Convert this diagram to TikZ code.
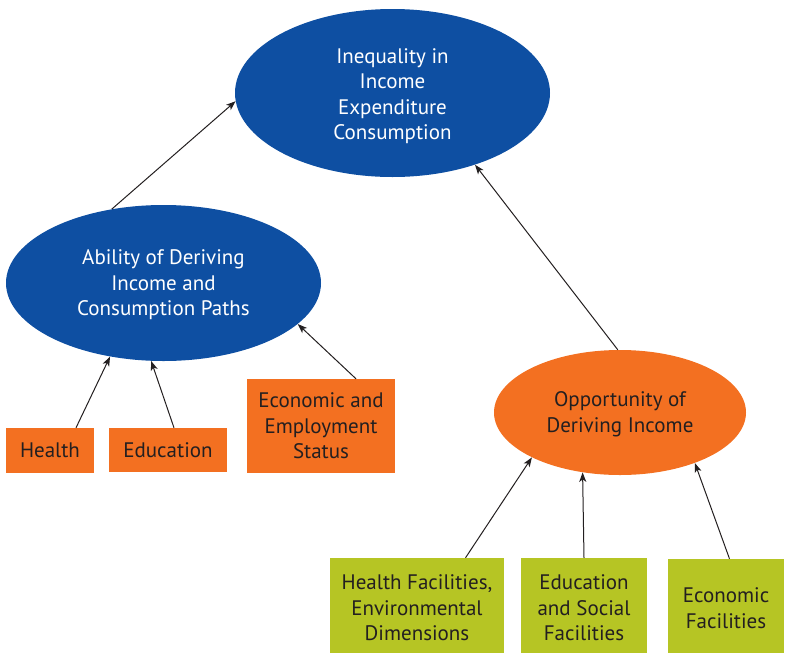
\documentclass[tikz,border=0pt]{standalone}
\usepackage{fontspec}
\setmainfont{PT Sans}
\usetikzlibrary{shapes.geometric,arrows.meta}
\definecolor{cblue}{RGB}{14,79,162}
\definecolor{corange}{RGB}{243,112,33}
\definecolor{cgreen}{RGB}{182,197,36}
\definecolor{cdark}{RGB}{35,31,32}
\tikzset{
  txt/.style={inner sep=0pt,align=center,font=\fontsize{21}{25.5}\selectfont},
  bigell/.style={ellipse,fill=cblue,text=white,txt},
  orell/.style={ellipse,fill=corange,text=cdark,txt},
  obox/.style={rectangle,fill=corange,text=cdark,txt},
  gbox/.style={rectangle,fill=cgreen,text=cdark,txt},
  wtxt/.style={txt,text=white},
  dtxt/.style={txt,text=cdark},
  conn/.style={draw=cdark,line width=1pt,-{Stealth[length=9.5pt,width=7pt,inset=2.5pt]}}
}
\begin{document}
\begin{tikzpicture}[x=1pt,y=-1pt]
\useasboundingbox (0,0) rectangle (785,654);
\node[bigell,minimum width=315pt,minimum height=168pt,label={[wtxt,yshift=-3pt]center:Inequality in\\Income\\Expenditure\\Consumption}] (top) at (392.5,93) {};
\node[bigell,minimum width=315pt,minimum height=156pt,label={[wtxt,yshift=-2pt]center:Ability of Deriving\\Income and\\Consumption Paths}] (abl) at (163.5,283) {};
\node[orell,minimum width=252pt,minimum height=125pt,label={[dtxt,yshift=-1.5pt]center:Opportunity of\\Deriving Income}] (opp) at (620,412.5) {};
\node[obox,minimum width=88pt,minimum height=45pt] (hea) at (50,450.5) {Health};
\node[obox,minimum width=118pt,minimum height=44pt] (edu) at (168,450) {Education};
\node[obox,minimum width=148pt,minimum height=94pt] (eco) at (321,426) {Economic and\\Employment\\Status};
\node[gbox,minimum width=174pt,minimum height=95pt,label={[dtxt,yshift=-2.5pt]center:Health Facilities,\\Environmental\\Dimensions}] (hfac) at (417,605.5) {};
\node[gbox,minimum width=126pt,minimum height=95pt,label={[dtxt,yshift=-2.5pt]center:Education\\and Social\\Facilities}] (efac) at (584,605.5) {};
\node[gbox,minimum width=116pt,minimum height=94pt,label={[dtxt,yshift=-2pt]center:Economic\\Facilities}] (ecfac) at (726,606) {};
\draw[conn] (abl.125.4) -- (top.183.6);
\draw[conn] (opp.92.7) -- (top.319.5);
\draw[conn] ([xshift=26pt]hea.north) -- (abl.234.9);
\draw[conn] ([xshift=6pt]edu.north) -- (abl.261.1);
\draw[conn] ([xshift=35pt]eco.north) -- (abl.343.9);
\draw[conn] ([xshift=48.5pt]hfac.north) -- (opp.207.4);
\draw[conn] (efac.north) -- (opp.238.9);
\draw[conn] ([xshift=3.5pt]ecfac.north) -- (opp.326);
\end{tikzpicture}
\end{document}
